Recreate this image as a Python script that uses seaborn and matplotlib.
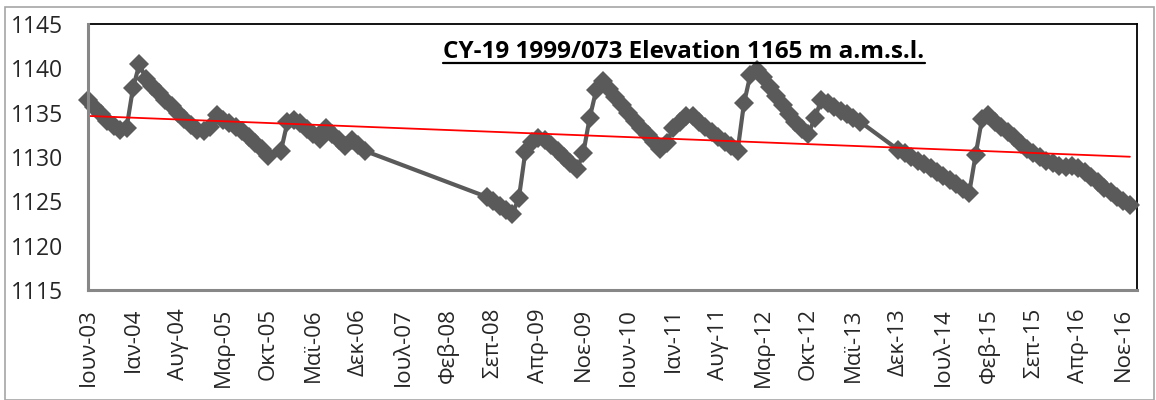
import numpy as np
import pandas as pd
import matplotlib
matplotlib.use("Agg")
import matplotlib.pyplot as plt
import seaborn as sns
from matplotlib.patches import Rectangle
from matplotlib.lines import Line2D

# --- Groundwater level readings (m a.m.s.l.), monthly, borehole CY-19 1999/073 ---
months_2003_2005 = pd.period_range("2003-06", "2005-10", freq="M")
levels_2003_2005 = [1136.4, 1135.6, 1134.8, 1134.1, 1133.5, 1133.0, 1133.3, 1137.8,
                    1140.5, 1138.8, 1138.0, 1137.2, 1136.4, 1135.7, 1135.0, 1134.3,
                    1133.6, 1133.1, 1132.9, 1133.4, 1134.7, 1134.2, 1133.8, 1133.4,
                    1132.9, 1132.3, 1131.6, 1130.9, 1130.1]

months_2005_2007 = pd.period_range("2005-12", "2007-01", freq="M")
levels_2005_2007 = [1130.7, 1133.9, 1134.2, 1133.8, 1133.2, 1132.6, 1132.0, 1133.3,
                    1132.6, 1131.9, 1131.2, 1131.9, 1131.3, 1130.7]

months_2008_2013 = pd.period_range("2008-08", "2013-06", freq="M")
levels_2008_2013 = [1125.5, 1125.0, 1124.5, 1124.0, 1123.6, 1125.4, 1130.6, 1131.7,
                    1132.1, 1131.9, 1131.4, 1130.7, 1130.0, 1129.3, 1128.6, 1130.4,
                    1134.4, 1137.5, 1138.6, 1137.7, 1136.8, 1135.9, 1135.0, 1134.1,
                    1133.3, 1132.5, 1131.7, 1130.9, 1131.6, 1133.3, 1134.0, 1134.6,
                    1134.6, 1134.0, 1133.4, 1132.8, 1132.2, 1131.7, 1131.2, 1130.7,
                    1136.1, 1139.3, 1139.8, 1139.0, 1137.9, 1136.9, 1135.9, 1134.9,
                    1134.0, 1133.2, 1132.6, 1134.4, 1136.4, 1136.1, 1135.6, 1135.2,
                    1134.8, 1134.4, 1134.0]

months_2013_2016 = pd.period_range("2013-12", "2016-12", freq="M")
levels_2013_2016 = [1130.8, 1130.4, 1130.0, 1129.6, 1129.2, 1128.8, 1128.3, 1127.9,
                    1127.4, 1126.9, 1126.4, 1125.9, 1130.2, 1134.3, 1134.7, 1134.0,
                    1133.4, 1132.8, 1132.2, 1131.5, 1130.9, 1130.4, 1130.0, 1129.6,
                    1129.3, 1129.0, 1128.9, 1129.0, 1128.8, 1128.3, 1127.8, 1127.2,
                    1126.5, 1126.0, 1125.5, 1125.0, 1124.6]

tick_labels = ["Ιουν-03", "Ιαν-04", "Αυγ-04", "Μαρ-05", "Οκτ-05", "Μαϊ-06",
               "Δεκ-06", "Ιουλ-07", "Φεβ-08", "Σεπ-08", "Απρ-09", "Νοε-09",
               "Ιουν-10", "Ιαν-11", "Αυγ-11", "Μαρ-12", "Οκτ-12", "Μαϊ-13",
               "Δεκ-13", "Ιουλ-14", "Φεβ-15", "Σεπ-15", "Απρ-16", "Νοε-16"]

title = "CY-19 1999/073 Elevation 1165 m a.m.s.l."

# --- assemble table: month index counted from June 2003 ---
periods = list(months_2003_2005) + list(months_2005_2007) + list(months_2008_2013) + list(months_2013_2016)
levels = levels_2003_2005 + levels_2005_2007 + levels_2008_2013 + levels_2013_2016
df = pd.DataFrame({
    "month": [(p.year - 2003) * 12 + (p.month - 6) for p in periods],
    "level": levels,
})

sns.set_theme(style="white")
plt.rcParams["font.family"] = ["Open Sans", "DejaVu Sans"]

W, H = 1156, 400
fig = plt.figure(figsize=(W / 100, H / 100), dpi=100)
fig.patch.set_facecolor("white")
ax = fig.add_axes([88 / W, 1 - 290 / H, (1137 - 88) / W, (290 - 24) / H])

sns.lineplot(data=df, x="month", y="level", ax=ax, color="#5a5a5a", linewidth=3.0,
             marker="D", markersize=10.5, markeredgewidth=0, estimator=None, sort=False,
             clip_on=False, zorder=3)
sns.regplot(data=df, x="month", y="level", ax=ax, scatter=False, ci=None, color="#ff0000",
            line_kws=dict(linewidth=1.3, zorder=4))

ax.set_xlim(0, 163.1)
ax.set_ylim(1115, 1145)
ax.set_yticks(np.arange(1115, 1146, 5))
ax.set_xticks(np.arange(0, 7 * len(tick_labels), 7))
ax.set_xticklabels(tick_labels, rotation=90, fontsize=16)
ax.tick_params(axis="y", labelsize=16.5, length=0, pad=18)
ax.tick_params(axis="x", length=0, pad=13)
ax.set_xlabel("")
ax.set_ylabel("")
ax.grid(False)

for side in ("top", "right"):
    ax.spines[side].set_color("black")
    ax.spines[side].set_linewidth(1.3)
for side in ("left", "bottom"):
    ax.spines[side].set_color("#878787")
    ax.spines[side].set_linewidth(2.2)
    ax.spines[side].set_zorder(5)

# underlined heading inside the plot area
t = fig.text(684 / W, 1 - 58 / H, title, ha="center", va="baseline",
             fontsize=17.5, fontweight="bold", color="black")
fig.canvas.draw()
bb = t.get_window_extent(renderer=fig.canvas.get_renderer())
y_ul = 1 - 63 / H
fig.add_artist(Line2D([bb.x0 / W, bb.x1 / W], [y_ul, y_ul], color="black",
                      linewidth=1.6, transform=fig.transFigure))

# outer chart frame
fig.add_artist(Rectangle((5 / W, 0.5 / H), (1154 - 5) / W, (399.5 - 7) / H,
                         transform=fig.transFigure, fill=False,
                         edgecolor="#a6a6a6", linewidth=1.2))

fig.savefig("out.png", dpi=100, facecolor="white")
